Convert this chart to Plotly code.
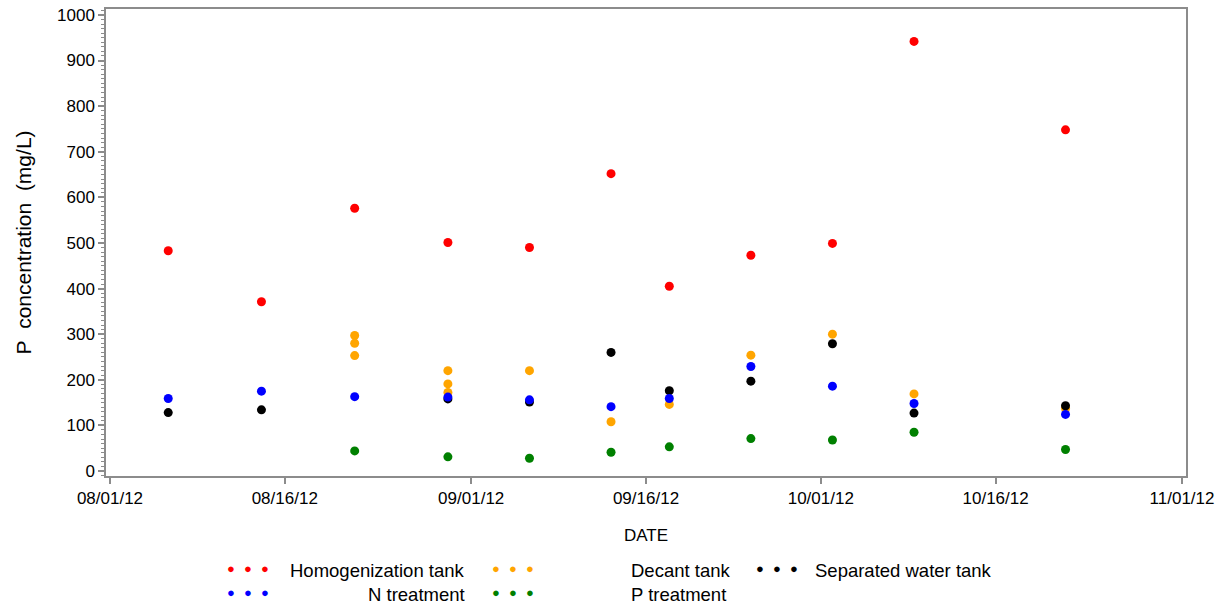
import plotly.graph_objects as go

# ---------------- data ----------------
homog_dates = ['2012-08-06', '2012-08-14', '2012-08-22', '2012-08-30', '2012-09-06', '2012-09-13',
               '2012-09-18', '2012-09-25', '2012-10-02', '2012-10-09', '2012-10-22']
homog_vals = [483, 371, 576, 501, 490, 652, 405, 473, 499, 942, 748]

decant_dates = ['2012-08-22', '2012-08-22', '2012-08-22', '2012-08-30', '2012-08-30', '2012-08-30',
                '2012-09-06', '2012-09-13', '2012-09-18', '2012-09-25', '2012-10-02', '2012-10-09',
                '2012-10-22']
decant_vals = [297, 280, 253, 220, 191, 172, 220, 108, 146, 254, 300, 169, 137]

sep_dates = ['2012-08-06', '2012-08-14', '2012-08-30', '2012-09-06', '2012-09-13',
             '2012-09-18', '2012-09-25', '2012-10-02', '2012-10-09', '2012-10-22']
sep_vals = [128, 134, 158, 151, 260, 176, 197, 279, 127, 143]

n_dates = ['2012-08-06', '2012-08-14', '2012-08-22', '2012-08-30', '2012-09-06', '2012-09-13',
           '2012-09-18', '2012-09-25', '2012-10-02', '2012-10-09', '2012-10-22']
n_vals = [159, 175, 163, 162, 156, 141, 159, 229, 186, 148, 124]

p_dates = ['2012-08-22', '2012-08-30', '2012-09-06', '2012-09-13', '2012-09-18',
           '2012-09-25', '2012-10-02', '2012-10-09', '2012-10-22']
p_vals = [44, 31, 28, 41, 53, 71, 68, 85, 47]

x_tick_vals = ['2012-08-01', '2012-08-16', '2012-09-01', '2012-09-16', '2012-10-01', '2012-10-16', '2012-11-01']
x_tick_text = ['08/01/12', '08/16/12', '09/01/12', '09/16/12', '10/01/12', '10/16/12', '11/01/12']
y_tick_vals = [0, 100, 200, 300, 400, 500, 600, 700, 800, 900, 1000]

series = [
    ("Homogenization tank", homog_dates, homog_vals, "#FF0000"),
    ("Decant tank", decant_dates, decant_vals, "#FFA500"),
    ("Separated water tank", sep_dates, sep_vals, "#000000"),
    ("N treatment", n_dates, n_vals, "#0000FF"),
    ("P treatment", p_dates, p_vals, "#008000"),
]

FONT = "Liberation Sans, Arial, sans-serif"
W, H = 1218, 606
ML, MR, MT, MB = 106, 32, 9, 130
PW, PH = W - ML - MR, H - MT - MB

fig = go.Figure()
for name, xs, ys, col in series:
    fig.add_trace(go.Scatter(x=xs, y=ys, mode="markers", name=name,
                             marker=dict(color=col, size=9, line=dict(width=0)),
                             showlegend=False))

# ---------------- manual legend (SAS style: three dots + label) ----------------
def px(xp):
    return (xp - ML) / PW

def py(yp):
    return (H - MB - yp) / PH

legend_items = [
    # label, color, dots x start, row y, text x, text anchor
    ("Homogenization tank", "#FF0000", 231, 568, 467, "right"),
    ("N treatment", "#0000FF", 231, 592, 467, "right"),
    ("Decant tank", "#FFA500", 496, 568, 629, "left"),
    ("P treatment", "#008000", 496, 592, 629, "left"),
    ("Separated water tank", "#000000", 760, 568, 813, "left"),
]
for label, col, dx, ry, tx, anchor in legend_items:
    for k in range(3):
        fig.add_annotation(x=px(dx + 17 * k), y=py(ry), xref="paper", yref="paper",
                           text="●", showarrow=False, xanchor="center", yanchor="middle",
                           font=dict(size=13, color=col, family=FONT))
    fig.add_annotation(x=px(tx), y=py(ry + 2), xref="paper", yref="paper",
                       text=label, showarrow=False, xanchor=anchor, yanchor="middle",
                       font=dict(size=18.5, color="#000000", family=FONT))

axis_col = "#8C8C8C"
fig.update_layout(
    width=W, height=H,
    margin=dict(l=ML, r=MR, t=MT, b=MB, autoexpand=False),
    paper_bgcolor="white", plot_bgcolor="white",
    font=dict(family=FONT, color="#000000", size=17),
    showlegend=False,
    xaxis=dict(
        type="date", automargin=False, ticklabeloverflow="allow",
        range=["2012-07-31 15:50", "2012-11-01 08:10"],
        tickvals=x_tick_vals, ticktext=x_tick_text,
        ticks="outside", ticklen=6, tickwidth=1.5, tickcolor=axis_col,
        showline=True, linecolor=axis_col, linewidth=1.5, mirror=True,
        showgrid=False, zeroline=False,
        tickfont=dict(size=17, color="#000000"),
        title=dict(text="DATE", font=dict(size=17, color="#000000"), standoff=22),
    ),
    yaxis=dict(
        automargin=False, ticklabeloverflow="allow",
        range=[-11, 1013],
        tickvals=y_tick_vals,
        ticks="outside", ticklen=6, tickwidth=1.5, tickcolor=axis_col,
        minor=dict(dtick=10, ticklen=3, tickcolor=axis_col, tickwidth=1, ticks="outside", showgrid=False),
        showline=True, linecolor=axis_col, linewidth=1.5, mirror=True,
        showgrid=False, zeroline=False,
        tickfont=dict(size=17, color="#000000"),
        title=dict(text="P\u00a0 concentration\u00a0 (mg/L)", font=dict(size=21, color="#000000"), standoff=20),
    ),
)

# remove the default page margin so the figure fills the window exactly
fig.write_html("out.html", config={"displayModeBar": False},
               post_script="document.body.style.margin='0px';")
